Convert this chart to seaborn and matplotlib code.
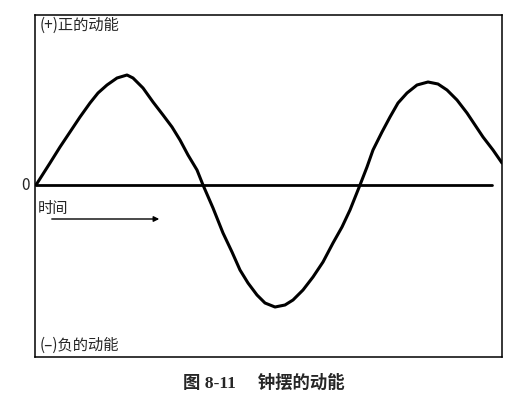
import numpy as np
import pandas as pd
import matplotlib.pyplot as plt
import seaborn as sns

# 曲线读数（时间, 动能）
time = [0, 14, 24, 34, 44, 54, 62, 71, 81, 91, 97, 107, 117, 127, 136, 144,
        152, 161, 167, 177, 187, 196, 204, 212, 221, 229, 239, 249, 257, 267,
        277, 287, 297, 306, 314, 324, 331, 337, 346, 354, 362, 371, 381, 392,
        402, 411, 421, 431, 439, 447, 457, 466]
energy = [0, 22, 38, 53, 68, 82, 92, 100, 107, 110, 107, 97, 83, 70, 58, 45,
          30, 15, 0, -23, -48, -67, -85, -98, -110, -118, -122, -120, -115,
          -105, -92, -77, -58, -42, -25, 0, 18, 35, 53, 68, 82, 92, 100, 103,
          101, 95, 85, 72, 60, 48, 35, 22]
zero_span = [0, 456]
top_label = '(+)正的动能'
bottom_label = '(–)负的动能'
time_label = '时间'
caption = '图 8-11     钟摆的动能'

df = pd.DataFrame({'t': time, 'e': energy})

sns.set_theme(style='white')
plt.rcParams['font.family'] = ['Noto Sans CJK SC', 'DejaVu Sans']

fig = plt.figure(figsize=(5.27, 4.07), dpi=100)
ax = fig.add_axes([35 / 527, 1 - 357 / 407, 467 / 527, 342 / 407])

sns.lineplot(data=df, x='t', y='e', color='black', linewidth=2.2, ax=ax)
ax.plot(zero_span, [0, 0], color='black', linewidth=2.0)

ax.set_xlim(-1, 466)
ax.set_ylim(-172, 170)
ax.set_xticks([])
ax.set_yticks([])
ax.set_xlabel('')
ax.set_ylabel('')
for s in ax.spines.values():
    s.set_color('black')
    s.set_linewidth(1.1)

ax.text(4, 160, top_label, fontsize=11, va='center', ha='left', fontweight='medium')
ax.text(4, -160, bottom_label, fontsize=11, va='center', ha='left', fontweight='medium')
ax.text(2, -24, time_label, fontsize=11, va='center', ha='left', fontweight='medium')
ax.text(-10, 0, '0', fontsize=11, va='center', ha='center', clip_on=False)
ax.annotate('', xy=(126, -34), xytext=(13, -34),
            arrowprops=dict(arrowstyle='-|>', color='black', lw=1.0,
                            mutation_scale=8))

fig.text(264 / 527, 1 - 383 / 407, caption, fontsize=12.5, fontweight='bold',
         ha='center', va='center',
         family=['Liberation Serif', 'Noto Sans CJK SC'])

fig.savefig('out.png', dpi=100, facecolor='white')
